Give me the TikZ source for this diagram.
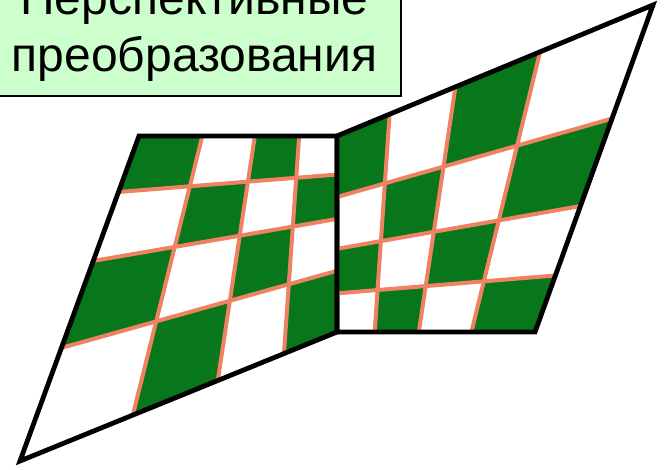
\documentclass[tikz,border=0pt]{standalone}
\usepackage{fontspec}
\setmainfont{Liberation Sans}

\definecolor{boardgreen}{RGB}{8,118,26}
\definecolor{seamline}{RGB}{240,130,100}
\definecolor{titlegreen}{RGB}{204,255,204}

% perspective map of the unit square onto a quad
% corners given for (u,v) = (0,0), (1,0), (1,1), (0,1)
\newcommand{\setquad}[8]{%
  \pgfmathsetmacro\qdxa{#3-#5}\pgfmathsetmacro\qdya{#4-#6}%
  \pgfmathsetmacro\qdxb{#7-#5}\pgfmathsetmacro\qdyb{#8-#6}%
  \pgfmathsetmacro\qdxc{#1-#3+#5-#7}\pgfmathsetmacro\qdyc{#2-#4+#6-#8}%
  \pgfmathsetmacro\qden{(\qdxa)*(\qdyb)-(\qdxb)*(\qdya)}%
  \pgfmathsetmacro\qg{((\qdxc)*(\qdyb)-(\qdxb)*(\qdyc))/(\qden)}%
  \pgfmathsetmacro\qh{((\qdxa)*(\qdyc)-(\qdxc)*(\qdya))/(\qden)}%
  \pgfmathsetmacro\qa{#3-#1+(\qg)*#3}\pgfmathsetmacro\qb{#7-#1+(\qh)*#7}%
  \pgfmathsetmacro\qd{#4-#2+(\qg)*#4}\pgfmathsetmacro\qe{#8-#2+(\qh)*#8}%
  \def\qc{#1}\def\qf{#2}%
  \coordinate (c00) at (#1,#2);
  \coordinate (c10) at (#3,#4);
  \coordinate (c11) at (#5,#6);
  \coordinate (c01) at (#7,#8);
}

% 4x4 checkerboard through the current quad
\newcommand{\board}{%
  \foreach \i in {0,...,3}
    \foreach \j in {0,...,3} {
      \pgfmathtruncatemacro\odd{mod(\i+\j,2)}
      \ifnum\odd=0
        \fill[boardgreen] ({mx(\i/4,\j/4)},{my(\i/4,\j/4)})
          -- ({mx((\i+1)/4,\j/4)},{my((\i+1)/4,\j/4)})
          -- ({mx((\i+1)/4,(\j+1)/4)},{my((\i+1)/4,(\j+1)/4)})
          -- ({mx(\i/4,(\j+1)/4)},{my(\i/4,(\j+1)/4)}) -- cycle;
      \fi
    }
  \foreach \k in {1,2,3} {
    \draw[seam] ({mx(\k/4,0)},{my(\k/4,0)}) -- ({mx(\k/4,1)},{my(\k/4,1)});
    \draw[seam] ({mx(0,\k/4)},{my(0,\k/4)}) -- ({mx(1,\k/4)},{my(1,\k/4)});
  }
  \draw[frame] (c00) -- (c10) -- (c11) -- (c01) -- cycle;
}

\begin{document}
\begin{tikzpicture}[x=75pt,y=-75pt,
    seam/.style={seamline,line width=3pt},
    frame/.style={black,line width=3.6pt},
    titlebox/.style={draw=black,line width=1.2pt,fill=titlegreen,
      align=center,font=\fontsize{36}{43}\selectfont,
      minimum width=310pt,inner ysep=11pt},
    declare function={
      mx(\uu,\vv)=((\qa)*\uu+(\qb)*\vv+\qc)/((\qg)*\uu+(\qh)*\vv+1);
      my(\uu,\vv)=((\qd)*\uu+(\qe)*\vv+\qf)/((\qg)*\uu+(\qh)*\vv+1);
    }]
  \useasboundingbox (0,0) rectangle (6.66,4.70);

  % left board
  \begin{scope}
    \setquad{1.39}{1.36}{3.37}{1.36}{3.37}{3.32}{0.20}{4.61}
    \board
  \end{scope}

  % right board
  \begin{scope}
    \setquad{3.37}{1.36}{6.53}{0.05}{5.35}{3.32}{3.37}{3.32}
    \board
  \end{scope}

  % title
  \node[titlebox,anchor=south east] (title) at (4.02,0.97)
    {Перспективные\\преобразования};
\end{tikzpicture}
\end{document}
